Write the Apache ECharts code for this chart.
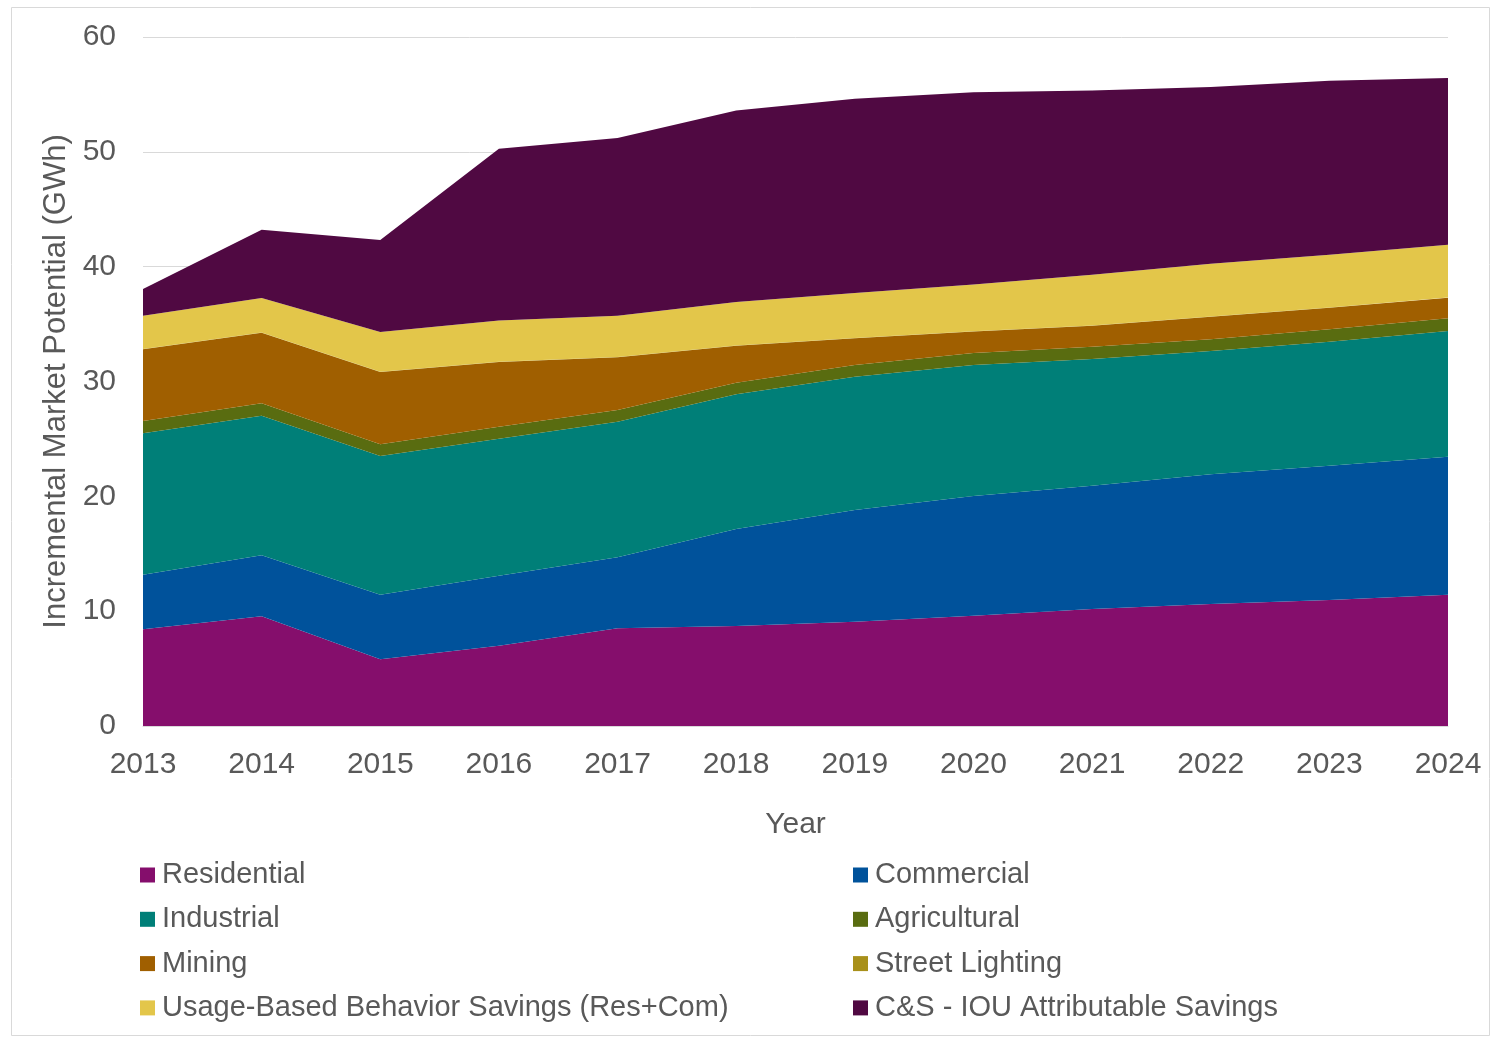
<!DOCTYPE html>
<html>
<head>
<meta charset="utf-8">
<style>
  html, body { margin: 0; padding: 0; background: #fff; }
  #chart { width: 1492px; height: 1038px; }
</style>
<script src="https://cdn.jsdelivr.net/npm/echarts@6/dist/echarts.min.js"></script>
</head>
<body>
<div id="chart"></div>
<script>
// Years on the category axis
const years = ['2013','2014','2015','2016','2017','2018','2019','2020','2021','2022','2023','2024'];

// Incremental market potential by sector (GWh), stacked bottom to top
const residential   = [8.42, 9.55, 5.81, 6.99, 8.51, 8.71, 9.08, 9.61, 10.19, 10.62, 10.97, 11.43];
const commercial    = [4.76, 5.32, 5.62, 6.10, 6.18, 8.45, 9.73, 10.42, 10.74, 11.30, 11.70, 12.02];
const industrial    = [12.31, 12.15, 12.08, 11.93, 11.81, 11.73, 11.61, 11.40, 11.03, 10.74, 10.80, 10.95];
const agricultural  = [1.07, 1.08, 1.02, 1.04, 1.02, 1.01, 1.02, 1.05, 1.07, 1.02, 1.08, 1.10];
const mining        = [6.24, 6.15, 6.30, 5.64, 4.59, 3.22, 2.32, 1.87, 1.83, 1.96, 1.88, 1.80];
const streetLight   = [0.02, 0.02, 0.02, 0.02, 0.02, 0.02, 0.02, 0.02, 0.02, 0.02, 0.02, 0.02];
const usageBehavior = [2.90, 3.00, 3.46, 3.60, 3.59, 3.78, 3.92, 4.07, 4.42, 4.59, 4.59, 4.59];
const csIou         = [2.33, 5.94, 8.01, 14.95, 15.48, 16.68, 16.92, 16.75, 16.05, 15.39, 15.15, 14.52];

// Y axis ticks
const yTicks = [0, 10, 20, 30, 40, 50, 60];

const seriesDefs = [
  { name: 'Residential', data: residential, color: '#850E6C' },
  { name: 'Commercial', data: commercial, color: '#00529B' },
  { name: 'Industrial', data: industrial, color: '#007F78' },
  { name: 'Agricultural', data: agricultural, color: '#596C10' },
  { name: 'Mining', data: mining, color: '#A05F00' },
  { name: 'Street Lighting', data: streetLight, color: '#A8901A' },
  { name: 'Usage-Based Behavior Savings (Res+Com)', data: usageBehavior, color: '#E3C64A' },
  { name: 'C&S - IOU Attributable Savings', data: csIou, color: '#500942' }
];

const font = '"Liberation Sans", Arial, sans-serif';
const textColor = '#595959';

const legendText = {
  fontFamily: font, fontSize: 29, color: textColor, lineHeight: 32, padding: [0, 0, 0, 2]
};

const chart = echarts.init(document.getElementById('chart'), null, { renderer: 'canvas' });

chart.setOption({
  animation: false,
  backgroundColor: '#fff',
  graphic: [{
    type: 'rect',
    shape: { x: 11.5, y: 7.5, width: 1478, height: 1028 },
    style: { fill: 'none', stroke: '#D9D9D9', lineWidth: 1 },
    silent: true, z: -1
  }],
  grid: { left: 143, right: 44, top: 37, bottom: 312 },
  legend: [
    {
      orient: 'vertical', left: 135, top: 854,
      itemWidth: 15, itemHeight: 15, itemGap: 12.3,
      icon: 'rect',
      data: ['Residential', 'Industrial', 'Mining', 'Usage-Based Behavior Savings (Res+Com)'],
      textStyle: legendText
    },
    {
      orient: 'vertical', left: 848, top: 854,
      itemWidth: 15, itemHeight: 15, itemGap: 12.3,
      icon: 'rect',
      data: ['Commercial', 'Agricultural', 'Street Lighting', 'C&S - IOU Attributable Savings'],
      textStyle: legendText
    }
  ],
  xAxis: {
    type: 'category',
    data: years,
    boundaryGap: false,
    name: 'Year',
    nameLocation: 'middle',
    nameGap: 84,
    nameTextStyle: { fontFamily: font, fontSize: 30, color: textColor },
    axisLine: { show: true, lineStyle: { color: '#D9D9D9', width: 1 } },
    axisTick: { show: false },
    axisLabel: { fontFamily: font, fontSize: 30, color: textColor, margin: 24 }
  },
  yAxis: {
    type: 'value',
    min: yTicks[0],
    max: yTicks[yTicks.length - 1],
    interval: 10,
    name: 'Incremental Market Potential (GWh)',
    nameLocation: 'middle',
    nameGap: 70,
    nameTextStyle: { fontFamily: font, fontSize: 31, color: textColor },
    axisLine: { show: false },
    axisTick: { show: false },
    splitLine: { lineStyle: { color: '#D9D9D9', width: 1 } },
    axisLabel: { fontFamily: font, fontSize: 30, color: textColor, margin: 27, padding: [4, 0, 0, 0] }
  },
  series: seriesDefs.map(s => ({
    name: s.name,
    type: 'line',
    stack: 'total',
    data: s.data,
    symbol: 'none',
    showSymbol: false,
    color: s.color,
    lineStyle: { width: 0, color: s.color },
    areaStyle: { color: s.color, opacity: 1 },
    emphasis: { disabled: true }
  }))
});
</script>
</body>
</html>
